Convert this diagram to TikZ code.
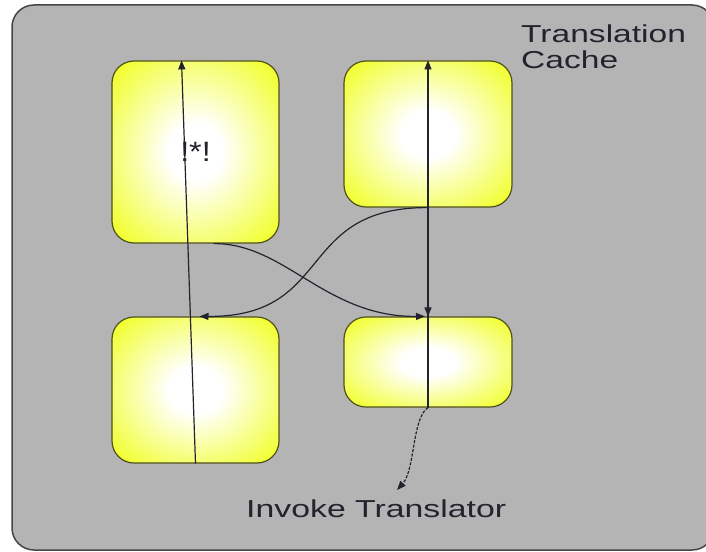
\documentclass[tikz,border=0pt]{standalone}
\usepackage{fontspec}
\setmainfont{Liberation Sans}
\usetikzlibrary{arrows.meta,calc}
\definecolor{boxyellow}{RGB}{238,255,0}
\definecolor{boxedge}{RGB}{80,80,30}
\definecolor{panel}{RGB}{180,180,180}
\definecolor{paneledge}{RGB}{70,70,70}
\definecolor{ink}{RGB}{35,35,45}
\pgfdeclareradialshading{boxglow}{\pgfpoint{0bp}{0bp}}{color(0bp)=(white);color(8bp)=(white);color(38bp)=(boxyellow);color(50bp)=(boxyellow)}
\tikzset{
  panelbox/.style={fill=panel, draw=paneledge, line width=1.5pt, rounded corners=22pt},
  cell/.style={draw=boxedge, line width=1.2pt, rounded corners=22pt, shading=boxglow, inner sep=0pt},
  flow/.style={draw=ink, line width=1.2pt, -{Triangle[length=9pt,width=7pt]}},
  label/.style={text=ink, inner sep=0pt, font=\fontsize{24.5}{25}\selectfont}
}
\begin{document}
\begin{tikzpicture}[x=1pt,y=-1pt]
\fill[white] (0,0) rectangle (706,551);
\useasboundingbox (0,0) rectangle (706,551);
\draw[panelbox] (12,5) rectangle (714,550);
\node[label, anchor=base west] (tc1) at (521,43) {\scalebox{1.37}[1]{Translation}};
\node[label, anchor=base west] (tc2) at (521,68) {\scalebox{1.37}[1]{Cache}};
\node[cell, minimum width=167pt, minimum height=182pt, text=ink, font=\fontsize{28}{30}\selectfont] (tl) at (195.5,152) {\scalebox{1.15}[1]{!*!}};
\node[cell, minimum width=168pt, minimum height=146pt] (tr) at (428,134) {};
\node[cell, minimum width=167pt, minimum height=146pt] (bl) at (195.5,390) {};
\node[cell, minimum width=168pt, minimum height=90pt] (br) at (428,362) {};
\node[label, anchor=base west] (inv) at (246,517) {\scalebox{1.38}[1]{Invoke Translator}};
\coordinate (invend) at (397,490);
\draw[flow] (bl.south) -- ([xshift=-14pt]tl.north);
\draw[flow] (br.south) -- (tr.north);
\draw[flow] (tr.south) -- (br.north);
\draw[flow] ([xshift=18pt]tl.south) .. controls (285,243) and (325,317) .. ([xshift=-3pt]br.north);
\draw[flow] (tr.south) .. controls (295,207) and (335,317) .. ([xshift=4pt]bl.north);
\draw[flow, dash pattern=on 3pt off 1.5pt] (br.south) .. controls (412,418) and (415,470) .. (invend);
\end{tikzpicture}
\end{document}
